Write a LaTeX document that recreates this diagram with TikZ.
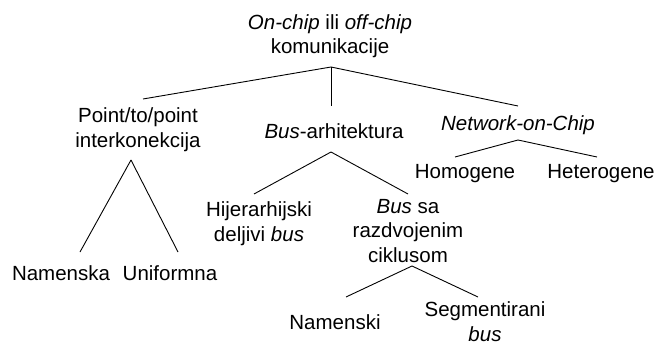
\documentclass[tikz,border=0pt]{standalone}
\usepackage{fontspec}
\setmainfont{Liberation Sans}
\usetikzlibrary{positioning}

\begin{document}
\begin{tikzpicture}[x=1pt,y=-1pt,
  lbl/.style={align=center,inner sep=0pt,anchor=base,
              font=\fontsize{20.5}{24.5}\selectfont},
  ln/.style={draw=black,line width=0.9pt}
]
\useasboundingbox (0,0) rectangle (658,342);
% levels of the tree (base = last line)
\node[lbl] (root) at (330,54) {\textit{On-chip} ili \textit{off-chip}\\komunikacije};
\node[lbl] (ptp) at (138,147) {Point/to/point\\interkonekcija};
\node[lbl] (bus) at (334,139) {\textit{Bus}-arhitektura};
\node[lbl] (noc) at (518,131) {\textit{Network-on-Chip}};
\node[lbl] (homog) at (465,178) {Homogene};
\node[lbl] (heterog) at (601,178) {Heterogene};
\node[lbl] (namenska) at (61,280) {Namenska};
\node[lbl] (uniform) at (170,280) {Uniformna};
\node[lbl] (hijer) at (259,241) {Hijerarhijski\\deljivi \textit{bus}};
\node[lbl] (razdv) at (408,262) {\textit{Bus} sa\\razdvojenim\\ciklusom};
\node[lbl] (namenski) at (335,329) {Namenski};
\node[lbl] (segm) at (485,341) {Segmentirani\\\textit{bus}};
% branches
\draw[ln] ([shift={(1,13)}]root.base) -- ([shift={(5,-48)}]ptp.base);
\draw[ln] ([shift={(1,13)}]root.base) -- ([shift={(-3,-33)}]bus.base);
\draw[ln] ([shift={(1,13)}]root.base) -- ([shift={(0,-25)}]noc.base);
\draw[ln] ([shift={(-7,13)}]ptp.base) -- ([shift={(19,-28)}]namenska.base);
\draw[ln] ([shift={(-7,13)}]ptp.base) -- ([shift={(8,-28)}]uniform.base);
\draw[ln] ([shift={(0,9)}]noc.base) -- ([shift={(-10,-21)}]homog.base);
\draw[ln] ([shift={(0,9)}]noc.base) -- ([shift={(-4,-21)}]heterog.base);
\draw[ln] ([shift={(-3,13)}]bus.base) -- ([shift={(-5,-47)}]hijer.base);
\draw[ln] ([shift={(-3,13)}]bus.base) -- ([shift={(0,-68)}]razdv.base);
\draw[ln] ([shift={(4,4)}]razdv.base) -- ([shift={(11,-32)}]namenski.base);
\draw[ln] ([shift={(4,4)}]razdv.base) -- ([shift={(-7,-44)}]segm.base);
\end{tikzpicture}
\end{document}
